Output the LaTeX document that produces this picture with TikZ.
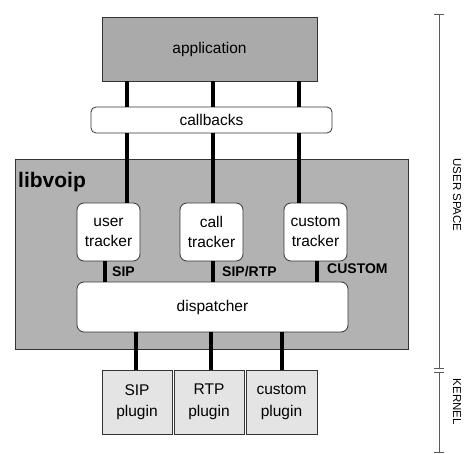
\documentclass[tikz,border=0pt]{standalone}
\usepackage{fontspec}
\setmainfont{Liberation Sans}
\begin{document}
\begin{tikzpicture}[x=1pt,y=-1pt,
  box/.style={draw=black!80,line width=0.8pt,inner sep=0pt,align=center,font=\fontsize{15.5}{20}\selectfont},
  appbox/.style={box,fill={rgb,255:red,170;green,170;blue,170}},
  rbox/.style={box,fill=white,rounded corners=7pt},
  plug/.style={box,font=\fontsize{15.5}{21.5}\selectfont,fill={rgb,255:red,228;green,228;blue,228},minimum width=70pt,minimum height=64pt},
  trk/.style={rbox,minimum width=63pt,minimum height=58pt},
  bar/.style={line width=4.5pt,line cap=butt},
  lbl/.style={font=\fontsize{14}{16}\selectfont\bfseries,anchor=west,inner sep=0pt},
  scaleline/.style={draw=black!65,line width=0.9pt},
  side/.style={font=\fontsize{11.5}{13}\selectfont,rotate=-90,inner sep=0pt}]
\useasboundingbox (0,0) rectangle (466,454);
% libvoip container
\node[box,fill={rgb,255:red,178;green,178;blue,178},minimum width=393pt,minimum height=190pt] (lib) at (211.5,254) {};
\node[font=\fontsize{21}{23}\selectfont\bfseries,anchor=west,inner sep=0pt] (libt) at (18,182) {libvoip};
% nodes
\node[appbox,minimum width=215pt,minimum height=64pt] (app) at (209.5,49) {application};
\node[rbox,rounded corners=5pt,minimum width=241pt,minimum height=26pt] (cb) at (211.5,120) {callbacks};
\node[trk] (ut) at (108.5,232) {user\\tracker};
\node[trk] (ct) at (211.5,232) {call\\tracker};
\node[trk] (cu) at (315.5,232) {custom\\tracker};
\node[rbox,minimum width=271pt,minimum height=50pt] (disp) at (212.5,307) {dispatcher};
\node[plug] (sp) at (137,402) {SIP\\plugin};
\node[plug] (rp) at (209,402) {RTP\\plugin};
\node[plug,minimum width=71pt] (cp) at (281.5,402) {custom\\plugin};
% columns
\coordinate (a1) at (127,0);
\coordinate (a2) at (213,0);
\coordinate (a3) at (299,0);
\coordinate (d1) at (105,0);
\coordinate (d2) at (213,0);
\coordinate (d3) at (317,0);
\coordinate (p1) at (136,0);
\coordinate (p2) at (211,0);
\coordinate (p3) at (282,0);
% bars
\draw[bar] (app.south -| a1) -- (cb.north -| a1);
\draw[bar] (app.south -| a2) -- (cb.north -| a2);
\draw[bar] (app.south -| a3) -- (cb.north -| a3);
\draw[bar] (cb.south -| a1) -- (ut.north -| a1);
\draw[bar] (cb.south -| a2) -- (ct.north -| a2);
\draw[bar] (cb.south -| a3) -- (cu.north -| a3);
\draw[bar] (ut.south -| d1) -- (disp.north -| d1);
\draw[bar] (ct.south -| d2) -- (disp.north -| d2);
\draw[bar] (cu.south -| d3) -- (disp.north -| d3);
\draw[bar] (disp.south -| p1) -- (sp.north -| p1);
\draw[bar] (disp.south -| p2) -- (rp.north -| p2);
\draw[bar] (disp.south -| p3) -- (cp.north -| p3);
% labels
\node[lbl] (l1) at (112,272) {SIP};
\node[lbl] (l2) at (222,272) {SIP/RTP};
\node[lbl] (l3) at (327,269) {CUSTOM};
% side scale
\coordinate (s0) at (439,14);
\coordinate (s1) at (439,368);
\coordinate (s2) at (439,372);
\coordinate (s3) at (439,452);
\draw[scaleline] (s0) -- (s1);
\draw[scaleline] (s2) -- (s3);
\draw[scaleline] ([xshift=-5pt]s0) -- ([xshift=5pt]s0);
\draw[scaleline] ([xshift=-5pt]s1) -- ([xshift=5pt]s1);
\draw[scaleline] ([xshift=-5pt]s2) -- ([xshift=5pt]s2);
\draw[scaleline] ([xshift=-5pt]s3) -- ([xshift=5pt]s3);
\node[side] (us) at (457,195) {USER SPACE};
\node[side] (kn) at (457,402) {KERNEL};
\end{tikzpicture}
\end{document}
